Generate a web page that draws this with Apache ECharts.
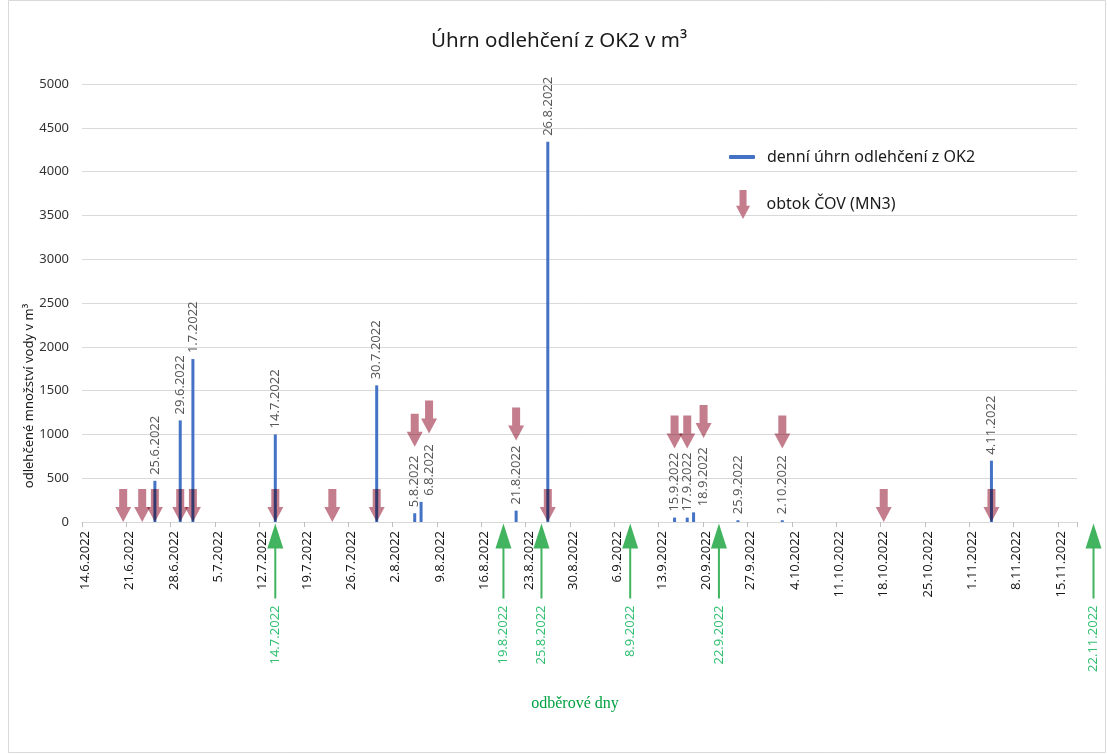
<!DOCTYPE html>
<html>
<head>
<meta charset="utf-8">
<script src="https://cdn.jsdelivr.net/npm/echarts@6/dist/echarts.min.js"></script>
<style>html,body{margin:0;padding:0;background:#fff;}#c{width:1107px;height:754px;}</style>
</head>
<body>
<div id="c"></div>
<script>
// ---- data ----
const axisStartDate = '14.6.2022';
const axisEndDate = '17.11.2022';
const overflowDates = ['25.6.2022','29.6.2022','1.7.2022','14.7.2022','30.7.2022','5.8.2022','6.8.2022','21.8.2022','26.8.2022','15.9.2022','17.9.2022','18.9.2022','25.9.2022','2.10.2022','4.11.2022'];
const overflowValues = [470, 1160, 1860, 1000, 1560, 100, 230, 130, 4340, 50, 50, 110, 20, 20, 700];
const bypassDates = ['20.6.2022','23.6.2022','25.6.2022','29.6.2022','1.7.2022','14.7.2022','23.7.2022','30.7.2022','5.8.2022','6.8.2022','21.8.2022','26.8.2022','15.9.2022','17.9.2022','18.9.2022','2.10.2022','18.10.2022','4.11.2022'];
const bypassMarkerLevels = [0, 0, 0, 0, 0, 0, 0, 0, 860, 1010, 930, 0, 840, 840, 960, 840, 0, 0];
const samplingDates = ['14.7.2022','19.8.2022','25.8.2022','8.9.2022','22.9.2022','22.11.2022'];
const yTicks = [0, 500, 1000, 1500, 2000, 2500, 3000, 3500, 4000, 4500, 5000];

const seriesNames = ['denní úhrn odlehčení z OK2', 'obtok ČOV (MN3)'];
const titleText = 'Úhrn odlehčení z OK2 v m³';
const yTitle = 'odlehčené množství vody v m³';
const xTitle = 'odběrové dny';

// ---- helpers ----
function parseD(s){ const p = s.split('.').map(Number); return Date.UTC(p[2], p[1]-1, p[0]); }
function fmtD(t){ const d = new Date(t); return d.getUTCDate()+'.'+(d.getUTCMonth()+1)+'.'+d.getUTCFullYear(); }
const DAY = 86400000;
const lastNeeded = Math.max(parseD(axisEndDate), ...samplingDates.map(parseD));
const categories = [];
for (let t = parseD(axisStartDate); t <= lastNeeded; t += DAY) categories.push(fmtD(t));
const axisMaxIndex = categories.indexOf(axisEndDate);

// horizontal label shifts (style only) for crowded labels, px
const labelShift = {'6.8.2022': 8, '18.9.2022': 10};

const FONT = 'Noto Sans';
const arrowDown = 'path://M4,0 L12,0 L12,18 L16,18 L8,33 L0,18 L4,18 Z';
const arrowUp = 'path://M8,0 L16,25 L9,25 L9,75 L7,75 L7,25 L0,25 Z';

// labels are rotated 90deg, so a screen-x shift is the label's local y offset
const barData = overflowDates.map((d, i) => ({
  value: [d, overflowValues[i]],
  label: {offset: [0, labelShift[d] || 0]}
}));
const bypassData = bypassDates.map((d, i) => ({
  value: [d, bypassMarkerLevels[i]],
  symbolOffset: [labelShift[d] || 0, -16.5]
}));
const samplingData = samplingDates.map(d => {
  const outside = categories.indexOf(d) > axisMaxIndex;
  return {
    value: [d, 0],
    symbolOffset: [outside ? -12 : 0, 39]
  };
});

const chart = echarts.init(document.getElementById('c'), null, {renderer: 'canvas'});
chart.setOption({
  animation: false,
  backgroundColor: '#fff',
  textStyle: {fontFamily: FONT},
  title: {
    text: titleText, left: 426, top: 26,
    textStyle: {fontFamily: FONT, fontSize: 20.5, fontWeight: 'normal', color: '#1a1a1a'}
  },
  legend: [
    {data: [seriesNames[0]], left: 729, top: 149, padding: 0, orient: 'vertical', itemWidth: 26, itemHeight: 4,
     icon: 'roundRect', textStyle: {fontFamily: FONT, fontSize: 16, color: '#1a1a1a', padding: [0,0,0,7]}},
    {data: [seriesNames[1]], left: 736, top: 190, padding: 0, orient: 'vertical', itemWidth: 15, itemHeight: 29,
     icon: arrowDown, textStyle: {fontFamily: FONT, fontSize: 16, color: '#1a1a1a', padding: [0,0,0,11]}}
  ],
  grid: {left: 82, right: 30, top: 84, bottom: 232, containLabel: false},
  xAxis: {
    type: 'category', data: categories, max: axisMaxIndex, boundaryGap: true,
    axisLine: {lineStyle: {color: '#d9d9d9', width: 1}},
    axisTick: {show: true, interval: 6, length: 5, lineStyle: {color: '#bfbfbf'}},
    axisLabel: {interval: 6, rotate: 90, margin: 9, fontSize: 13, color: '#1a1a1a', fontFamily: FONT}
  },
  yAxis: {
    type: 'value', min: yTicks[0], max: yTicks[yTicks.length-1], interval: yTicks[1]-yTicks[0],
    axisLine: {show: false}, axisTick: {show: false},
    axisLabel: {margin: 13, fontSize: 13, color: '#333', fontFamily: FONT, formatter: v => String(v)},
    splitLine: {lineStyle: {color: '#d9d9d9', width: 1}}
  },
  graphic: [
    {type: 'rect', silent: true, shape: {x: 8.5, y: 0.5, width: 1097, height: 752},
     style: {fill: 'none', stroke: '#d9d9d9', lineWidth: 1}, z: -10},
    {type: 'text', x: 29, y: 396, rotation: Math.PI/2,
     style: {text: yTitle, fontFamily: FONT, fontSize: 13, fill: '#1a1a1a', align: 'center', verticalAlign: 'middle'}},
    {type: 'text', x: 575, y: 704,
     style: {text: xTitle, fontFamily: 'Liberation Serif', fontSize: 16, fill: '#00a040', align: 'center', verticalAlign: 'middle'}}
  ],
  series: [
    {
      name: seriesNames[0], type: 'bar', data: barData, barWidth: 3, barGap: '-100%',
      itemStyle: {color: '#4472c4'}, z: 2,
      label: {show: true, position: 'top', rotate: 90, align: 'left', verticalAlign: 'middle', distance: 6,
        fontSize: 13, color: '#595959', fontFamily: FONT, formatter: p => p.value[0]}
    },
    {
      name: seriesNames[1], type: 'scatter', data: bypassData, symbol: arrowDown, symbolSize: [16, 33],
      symbolKeepAspect: false, itemStyle: {color: '#c47d8c', opacity: 1}, blendMode: 'multiply', z: 3
    },
    {
      name: 'odběrové dny', type: 'scatter', data: samplingData, symbol: arrowUp, symbolSize: [16, 75],
      clip: false, itemStyle: {color: '#13a037'}, z: 4,
      label: {show: true, position: 'bottom', rotate: 90, align: 'right', verticalAlign: 'middle', distance: 7,
        fontSize: 13, color: '#00b050', fontFamily: FONT, formatter: p => p.value[0]}
    }
  ]
});
</script>
</body>
</html>
